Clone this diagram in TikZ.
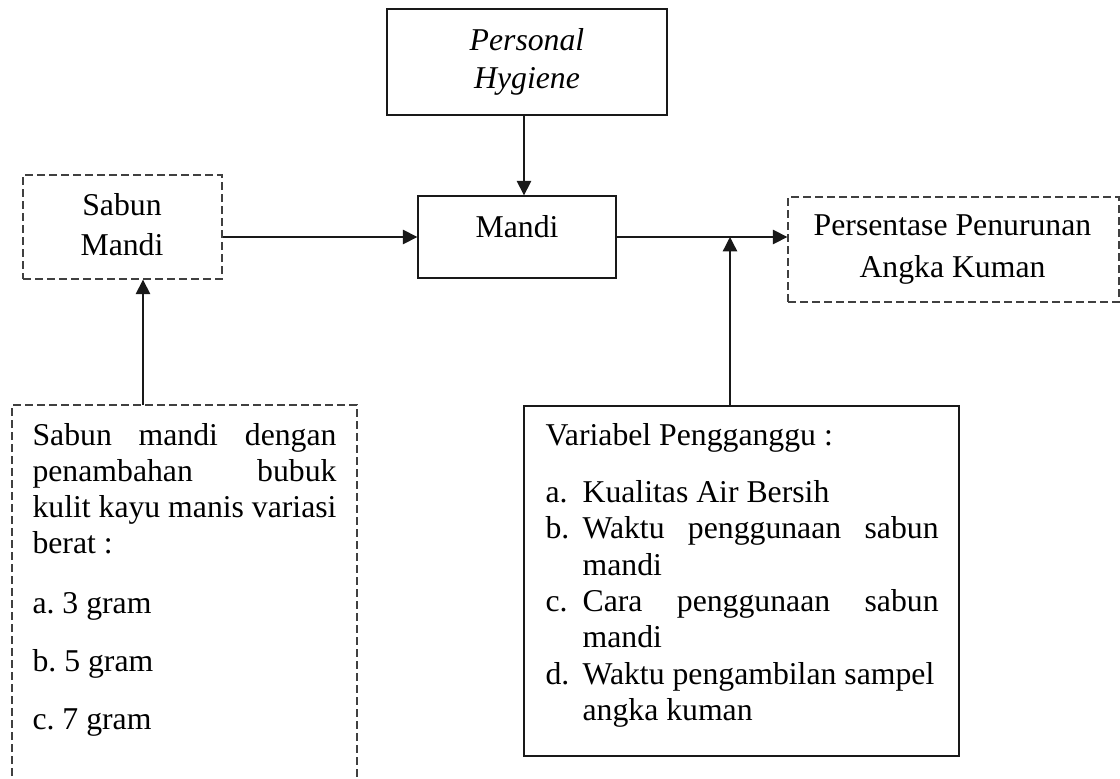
\documentclass[tikz,border=0pt]{standalone}
\usepackage{fontspec}
\setmainfont{Liberation Serif}
\usetikzlibrary{arrows.meta,fit}
\frenchspacing
\begin{document}
\begin{tikzpicture}[x=0.375pt,y=-0.375pt,
  solidbox/.style={draw=black!90,line width=0.5pt,inner sep=0pt},
  dashbox/.style={draw=black!75,line width=0.5pt,dash pattern=on 3pt off 1.5pt,inner sep=0pt},
  txt/.style={inner sep=0pt,anchor=base,font=\fontsize{11.9}{13.7}\selectfont},
  arr/.style={draw=black!90,line width=0.5pt,-{Triangle[length=5.4pt,width=5.4pt]}}]
\useasboundingbox (0,0) rectangle (1120,778);
% boxes
\node[solidbox,fit={(387,9)(667,115)}] (ph) {};
\node[solidbox,fit={(418,196)(616,278)}] (mandi) {};
\node[dashbox,fit={(23,175)(222,279)}] (sabun) {};
\node[dashbox,fit={(788,197)(1119,302)}] (pers) {};
\node[solidbox,fit={(524,406)(959,756)}] (var) {};
\draw[dashbox] (12,800) -- (12,405) -- (357,405) -- (357,800);
% texts
\node[txt] (phtext) at (527,50) {\parbox[t]{110pt}{\centering\fontsize{11.9}{14.25}\selectfont\itshape Personal\\Hygiene}};
\node[txt] (mtext) at (517,237) {Mandi};
\node[txt] (stext) at (122,215) {\parbox[t]{70pt}{\centering\fontsize{11.9}{15}\selectfont Sabun\\Mandi}};
\node[txt] (ptext) at (952.5,235) {\parbox[t]{125pt}{\centering\fontsize{11.9}{15.75}\selectfont Persentase Penurunan\\Angka Kuman}};
\node[txt,anchor=base west] (bltext) at (32,445) {\parbox[t]{114pt}{\fontsize{11.9}{13.6}\selectfont
Sabun\hfill mandi\hfill dengan\\
penambahan\hfill bubuk\\
kulit\hfill kayu\hfill manis\hfill variasi\\
berat :\\[8.9pt]
a. 3 gram\\[8pt]
b. 5 gram\\[8.2pt]
c. 7 gram}};
\node[txt,anchor=base west] (vtext) at (545,445) {\parbox[t]{147.4pt}{\fontsize{11.9}{13.65}\selectfont
Variabel Pengganggu :\\[7.8pt]
\makebox[13.9pt][l]{a.}Kualitas Air Bersih\\
\makebox[13.9pt][l]{b.}Waktu\hfill penggunaan\hfill sabun\\
\hspace*{13.9pt}mandi\\
\makebox[13.9pt][l]{c.}Cara\hfill penggunaan\hfill sabun\\
\hspace*{13.9pt}mandi\\
\makebox[13.9pt][l]{d.}Waktu pengambilan sampel\\
\hspace*{13.9pt}angka kuman}};
% connectors
\coordinate (pj) at (524,0);
\coordinate (blt) at (143,405);
\coordinate (vj) at (730,0);
\draw[arr] (ph.south -| pj) -- (mandi.north -| pj);
\draw[arr] (sabun.east |- mandi.west) -- (mandi.west);
\draw[arr] (mandi.east) -- (mandi.east -| pers.west);
\draw[arr] (blt) -- (blt |- sabun.south);
\draw[arr] (var.north -| vj) -- (vj |- mandi.east);
\end{tikzpicture}
\end{document}
